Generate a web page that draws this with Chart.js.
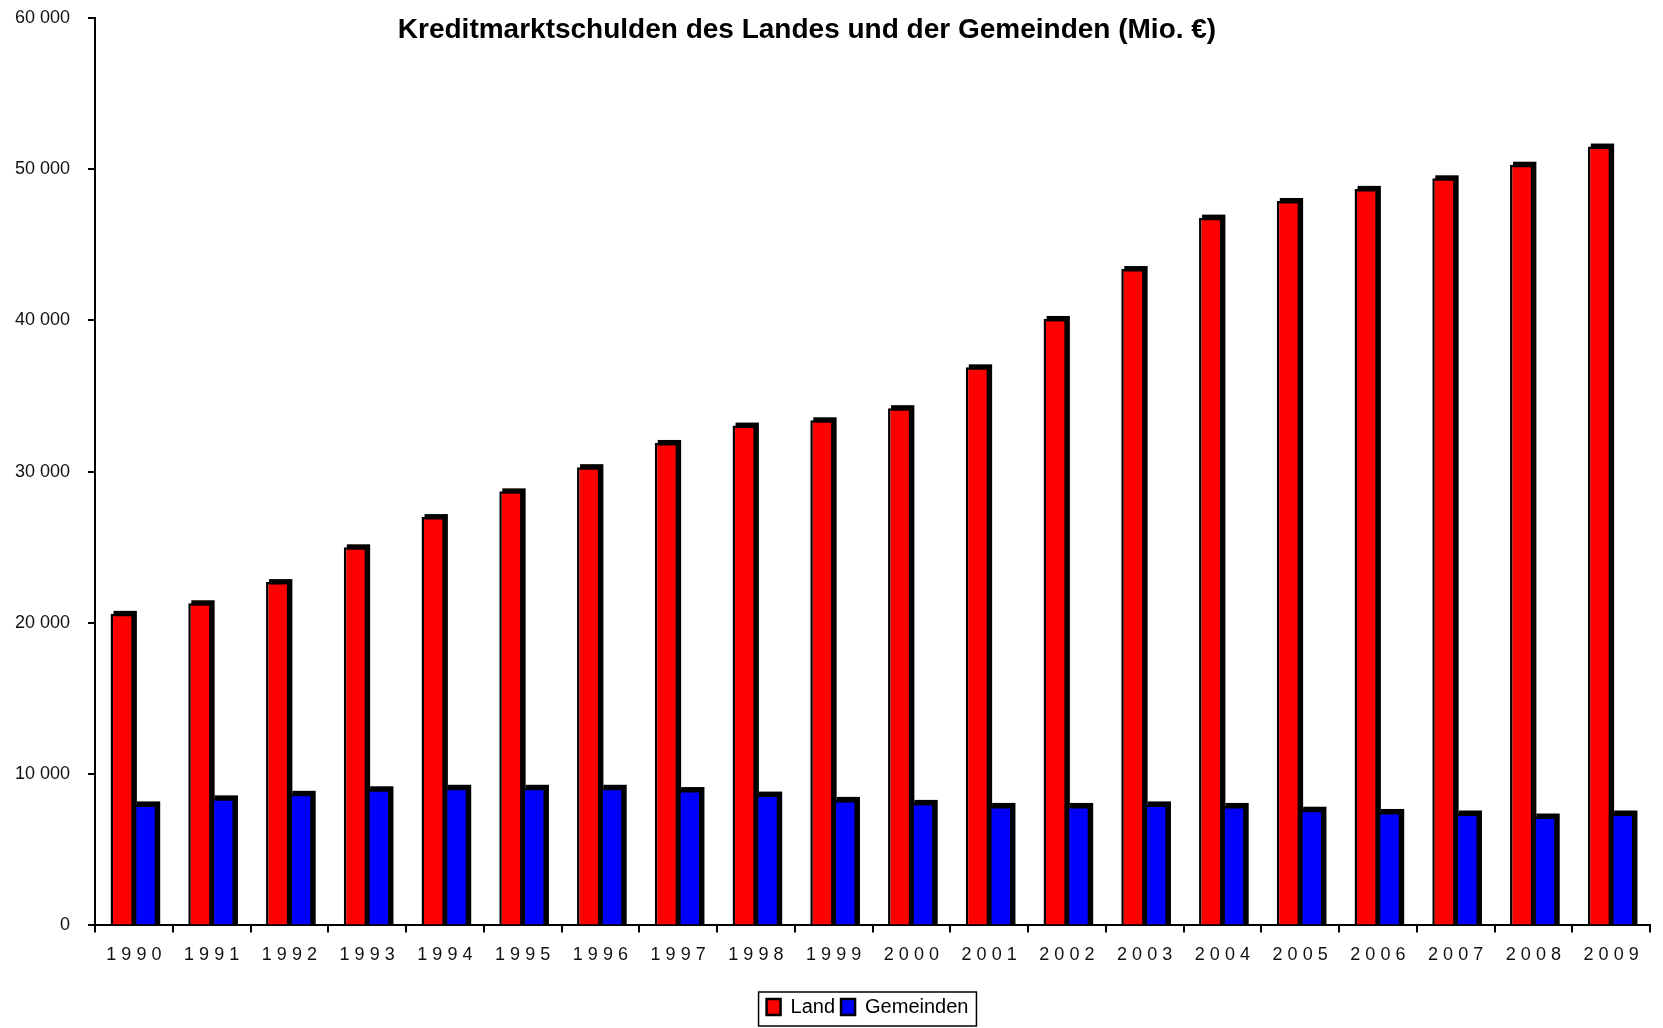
<!DOCTYPE html>
<html>
<head>
<meta charset="utf-8">
<script src="https://cdn.jsdelivr.net/npm/chart.js@4.4.0/dist/chart.umd.min.js"></script>
<style>
    body { margin: 0; background: #fff; }
    #wrap { width: 1663px; height: 1028px; }
</style>
</head>
<body>
<div id="wrap"><canvas id="chart-schulden"></canvas></div>
<script>
// Daten
const years = ["1990","1991","1992","1993","1994","1995","1996","1997","1998","1999",
               "2000","2001","2002","2003","2004","2005","2006","2007","2008","2009"];
const land = [20600, 21300, 22700, 25000, 27000, 28700, 30300, 31900, 33050, 33400,
              34200, 36900, 40100, 43400, 46800, 47900, 48700, 49400, 50300, 51500];
const gemeinden = [8000, 8400, 8700, 9000, 9100, 9100, 9100, 8950, 8650, 8300,
                   8100, 7900, 7900, 8000, 7900, 7650, 7500, 7400, 7200, 7400];
const yTicks = [0, 10000, 20000, 30000, 40000, 50000, 60000];
const titleText = "Kreditmarktschulden des Landes und der Gemeinden (Mio. €)";
const FONT = "'Liberation Sans', Arial, sans-serif";

// Tausender mit Leerzeichen
function formatNumber(v) {
    return String(v).replace(/\B(?=(\d{3})+(?!\d))/g, " ");
}

// Schatten rechts/oben fuer die Balken (3D-Kante)
const barShadow = {
    id: "barShadow",
    beforeDatasetsDraw(chart) {
        const ctx = chart.ctx;
        ctx.save();
        ctx.fillStyle = "#000";
        chart.getSortedVisibleDatasetMetas().forEach(meta => {
            meta.data.forEach(bar => {
                const p = bar.getProps(["x", "y", "base", "width"], true);
                ctx.fillRect(p.x - p.width / 2 + 3, p.y - 3, p.width, p.base - p.y + 3);
            });
        });
        ctx.restore();
    }
};

// Titel ueber der Zeichenflaeche
const titleInside = {
    id: "titleInside",
    afterDraw(chart) {
        const ctx = chart.ctx;
        ctx.save();
        ctx.font = "bold 28px " + FONT;
        ctx.fillStyle = "#000";
        ctx.textAlign = "center";
        ctx.textBaseline = "middle";
        ctx.fillText(titleText, 807, 30);
        ctx.restore();
    }
};

// Legende unter der Zeichenflaeche zentrieren und einrahmen
const legendFrame = {
    id: "legendFrame",
    afterLayout(chart) {
        const lg = chart.legend;
        if (!lg) return;
        const d = (chart.chartArea.left + chart.chartArea.right) / 2 - (lg.left + lg.right) / 2 - 5;
        lg.left += d;
        lg.right += d;
    },
    afterDraw(chart) {
        const lg = chart.legend;
        if (!lg) return;
        const ctx = chart.ctx;
        ctx.save();
        ctx.strokeStyle = "#000";
        ctx.lineWidth = 1.5;
        const w = lg.lineWidths[0] + 10;
        const x = (lg.left + lg.right) / 2 - w / 2;
        ctx.strokeRect(x, lg.top + 1, w, lg.height - 2);
        ctx.restore();
    }
};

const ctx = document.getElementById("chart-schulden").getContext("2d");
const myChart = new Chart(ctx, {
    type: "bar",
    data: {
        labels: years,
        datasets: [{
            label: "Land",
            data: land,
            backgroundColor: "#ff0000",
            borderColor: "#000",
            borderWidth: 2.5,
            borderSkipped: "bottom"
        }, {
            label: "Gemeinden",
            data: gemeinden,
            backgroundColor: "#0000ff",
            borderColor: "#000",
            borderWidth: 2.5,
            borderSkipped: "bottom"
        }]
    },
    options: {
        responsive: true,
        maintainAspectRatio: false,
        animation: false,
        layout: {
            padding: { top: 18, right: 13, bottom: 1, left: 0 }
        },
        datasets: {
            bar: { categoryPercentage: 0.6, barPercentage: 1.0 }
        },
        plugins: {
            title: { display: false },
            tooltip: { enabled: false },
            legend: {
                display: true,
                position: "bottom",
                labels: {
                    color: "#000",
                    font: { family: FONT, size: 20 },
                    boxWidth: 14,
                    boxHeight: 16,
                    padding: 6
                }
            }
        },
        scales: {
            x: {
                afterFit: function(axis) {
                    axis.height += 13;
                },
                grid: { drawOnChartArea: false, drawTicks: true, tickLength: 7, color: "#000", lineWidth: 2 },
                border: { color: "#000", width: 2 },
                ticks: {
                    color: "#111",
                    font: { family: FONT, size: 18 },
                    padding: 12,
                    maxRotation: 0,
                    callback: function(value, index) {
                        return years[index].split("").join(" ");
                    }
                }
            },
            y: {
                min: 0,
                max: 60000,
                afterBuildTicks: function(axis) {
                    axis.ticks = yTicks.map(v => ({ value: v }));
                },
                afterFit: function(axis) {
                    axis.width = 95;
                    axis.paddingTop = 0;
                    axis.paddingBottom = 0;
                },
                grid: { drawOnChartArea: false, drawTicks: true, tickLength: 7, color: "#000", lineWidth: 2 },
                border: { color: "#000", width: 2 },
                ticks: {
                    color: "#111",
                    font: { family: FONT, size: 18 },
                    padding: 18,
                    callback: function(value) {
                        return formatNumber(value);
                    }
                }
            }
        }
    },
    plugins: [barShadow, titleInside, legendFrame]
});
</script>
</body>
</html>
